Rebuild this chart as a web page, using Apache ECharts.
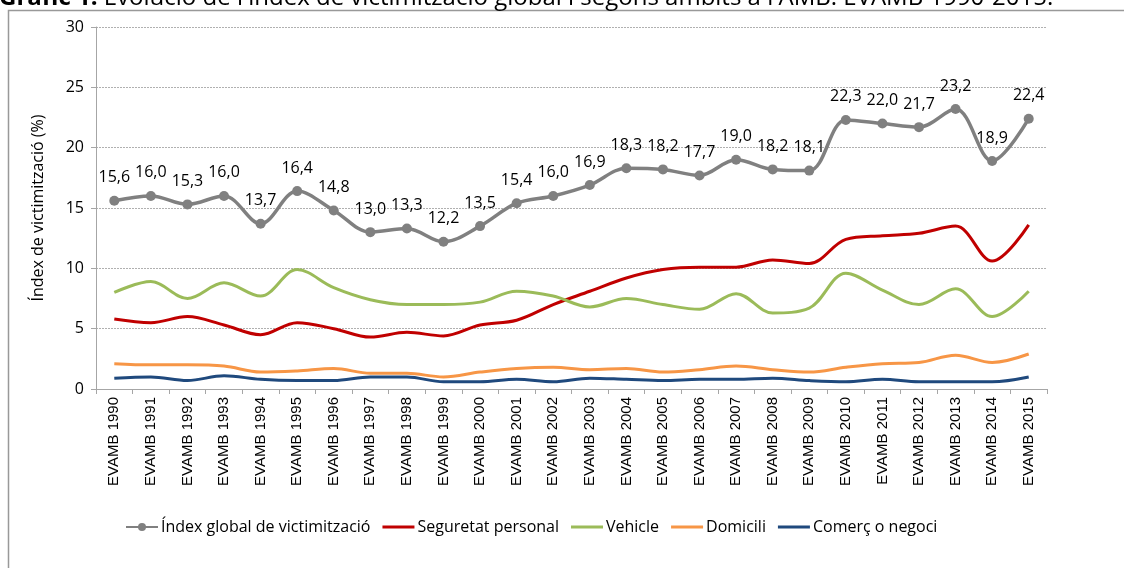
<!DOCTYPE html>
<html>
<head>
<meta charset="utf-8">
<script src="https://cdn.jsdelivr.net/npm/echarts@6/dist/echarts.min.js"></script>
<style>
  html, body { margin: 0; padding: 0; background: #fff; }
  #chart { width: 1124px; height: 568px; }
</style>
</head>
<body>
<div id="chart"></div>
<script>
const years = ['EVAMB 1990', 'EVAMB 1991', 'EVAMB 1992', 'EVAMB 1993', 'EVAMB 1994', 'EVAMB 1995',
  'EVAMB 1996', 'EVAMB 1997', 'EVAMB 1998', 'EVAMB 1999', 'EVAMB 2000', 'EVAMB 2001', 'EVAMB 2002',
  'EVAMB 2003', 'EVAMB 2004', 'EVAMB 2005', 'EVAMB 2006', 'EVAMB 2007', 'EVAMB 2008', 'EVAMB 2009',
  'EVAMB 2010', 'EVAMB 2011', 'EVAMB 2012', 'EVAMB 2013', 'EVAMB 2014', 'EVAMB 2015']

const indexGlobal = [15.6, 16.0, 15.3, 16.0, 13.7, 16.4, 14.8, 13.0, 13.3, 12.2, 13.5, 15.4, 16.0,
  16.9, 18.3, 18.2, 17.7, 19.0, 18.2, 18.1, 22.3, 22.0, 21.7, 23.2, 18.9, 22.4]
const seguretat = [5.8, 5.5, 6.0, 5.3, 4.5, 5.5, 5.0, 4.3, 4.7, 4.4, 5.3, 5.7, 7.0,
  8.1, 9.2, 9.9, 10.1, 10.1, 10.7, 10.4, 12.4, 12.7, 12.9, 13.5, 10.6, 13.6]
const vehicle = [8.0, 8.9, 7.5, 8.8, 7.7, 9.9, 8.4, 7.4, 7.0, 7.0, 7.2, 8.1, 7.7,
  6.8, 7.5, 7.0, 6.6, 7.9, 6.3, 6.7, 9.6, 8.2, 7.0, 8.3, 6.0, 8.1]
const domicili = [2.1, 2.0, 2.0, 1.9, 1.4, 1.5, 1.7, 1.3, 1.3, 1.0, 1.4, 1.7, 1.8,
  1.6, 1.7, 1.4, 1.6, 1.9, 1.6, 1.4, 1.8, 2.1, 2.2, 2.8, 2.2, 2.9]
const comerc = [0.9, 1.0, 0.7, 1.1, 0.8, 0.7, 0.7, 1.0, 1.0, 0.6, 0.6, 0.8, 0.6,
  0.9, 0.8, 0.7, 0.8, 0.8, 0.9, 0.7, 0.6, 0.8, 0.6, 0.6, 0.6, 1.0]

const yTicks = { min: 0, max: 30, interval: 5 }

const txt = '#000'
const fontSans = 'Open Sans, Noto Sans, sans-serif'
// thin bar used as legend icon for the plain lines (moveTo points keep the box 32x10)
const lineIcon = 'path://M0,0 M32,10 M0,3.5 L32,3.5 L32,6.5 L0,6.5 Z'

const myChart = echarts.init(document.getElementById('chart'))

function lineSeries(name, data, color) {
  return {
    name: name,
    type: 'line',
    data: data,
    smooth: 0.35,
    symbol: 'none',
    lineStyle: { color: color, width: 3 },
    itemStyle: { color: color },
    emphasis: { disabled: true },
    z: 2
  }
}

const option = {
  animation: false,
  graphic: [
    {
      type: 'rect',
      shape: { x: 8.5, y: 10.5, width: 1130, height: 580 },
      style: { fill: 'none', stroke: '#999', lineWidth: 1.5 },
      silent: true
    },
    {
      type: 'text',
      x: -1,
      y: 10,
      style: {
        text: '{b|Gràfic 1.} Evolució de l\'índex de victimització global i segons àmbits a l\'AMB. EVAMB 1990-2015.',
        verticalAlign: 'bottom',
        font: '24px ' + fontSans,
        fill: '#000',
        rich: {
          b: { fontWeight: 'bold', fontSize: 24, fontFamily: fontSans }
        }
      },
      silent: true
    }
  ],
  grid: {
    left: 96,
    right: 77,
    top: 27,
    bottom: 179
  },
  legend: {
    left: 120,
    top: 514,
    itemWidth: 32,
    itemHeight: 10,
    itemGap: 12,
    textStyle: { fontFamily: fontSans, fontSize: 16, color: txt, padding: [0, 0, 0, -2] },
    data: [
      { name: 'Índex global de victimització' },
      { name: 'Seguretat personal', icon: lineIcon },
      { name: 'Vehicle', icon: lineIcon },
      { name: 'Domicili', icon: lineIcon },
      { name: 'Comerç o negoci', icon: lineIcon }
    ]
  },
  xAxis: {
    type: 'category',
    data: years,
    boundaryGap: true,
    axisLine: { lineStyle: { color: '#a6a6a6', width: 1 } },
    axisTick: { show: true, length: 5, lineStyle: { color: '#a6a6a6' } },
    axisLabel: {
      interval: 0,
      rotate: 90,
      fontFamily: 'Liberation Sans, Arial, sans-serif',
      fontSize: 15,
      color: txt,
      margin: 8
    }
  },
  yAxis: {
    type: 'value',
    min: yTicks.min,
    max: yTicks.max,
    interval: yTicks.interval,
    name: 'Índex de victimització (%)',
    nameLocation: 'middle',
    nameGap: 50,
    nameTextStyle: { fontFamily: fontSans, fontSize: 16, color: txt },
    axisLine: { show: true, lineStyle: { color: '#a6a6a6' } },
    axisTick: { show: true, length: 5, lineStyle: { color: '#a6a6a6' } },
    axisLabel: { fontFamily: fontSans, fontSize: 16, color: txt, margin: 12 },
    splitLine: { lineStyle: { color: '#b0b0b0', type: [2, 1], width: 1 } }
  },
  series: [
    {
      name: 'Índex global de victimització',
      type: 'line',
      data: indexGlobal,
      smooth: 0.35,
      symbol: 'circle',
      symbolSize: 10,
      lineStyle: { color: '#808080', width: 3.5 },
      itemStyle: { color: '#808080' },
      emphasis: { disabled: true },
      label: {
        show: true,
        position: 'top',
        distance: 10,
        fontFamily: fontSans,
        fontSize: 16,
        color: txt,
        formatter: p => p.value.toFixed(1).replace('.', ',')
      },
      z: 3
    },
    lineSeries('Seguretat personal', seguretat, '#C00000'),
    lineSeries('Vehicle', vehicle, '#9BBB59'),
    lineSeries('Domicili', domicili, '#F79646'),
    lineSeries('Comerç o negoci', comerc, '#1F497D')
  ]
}

myChart.setOption(option)
</script>
</body>
</html>
